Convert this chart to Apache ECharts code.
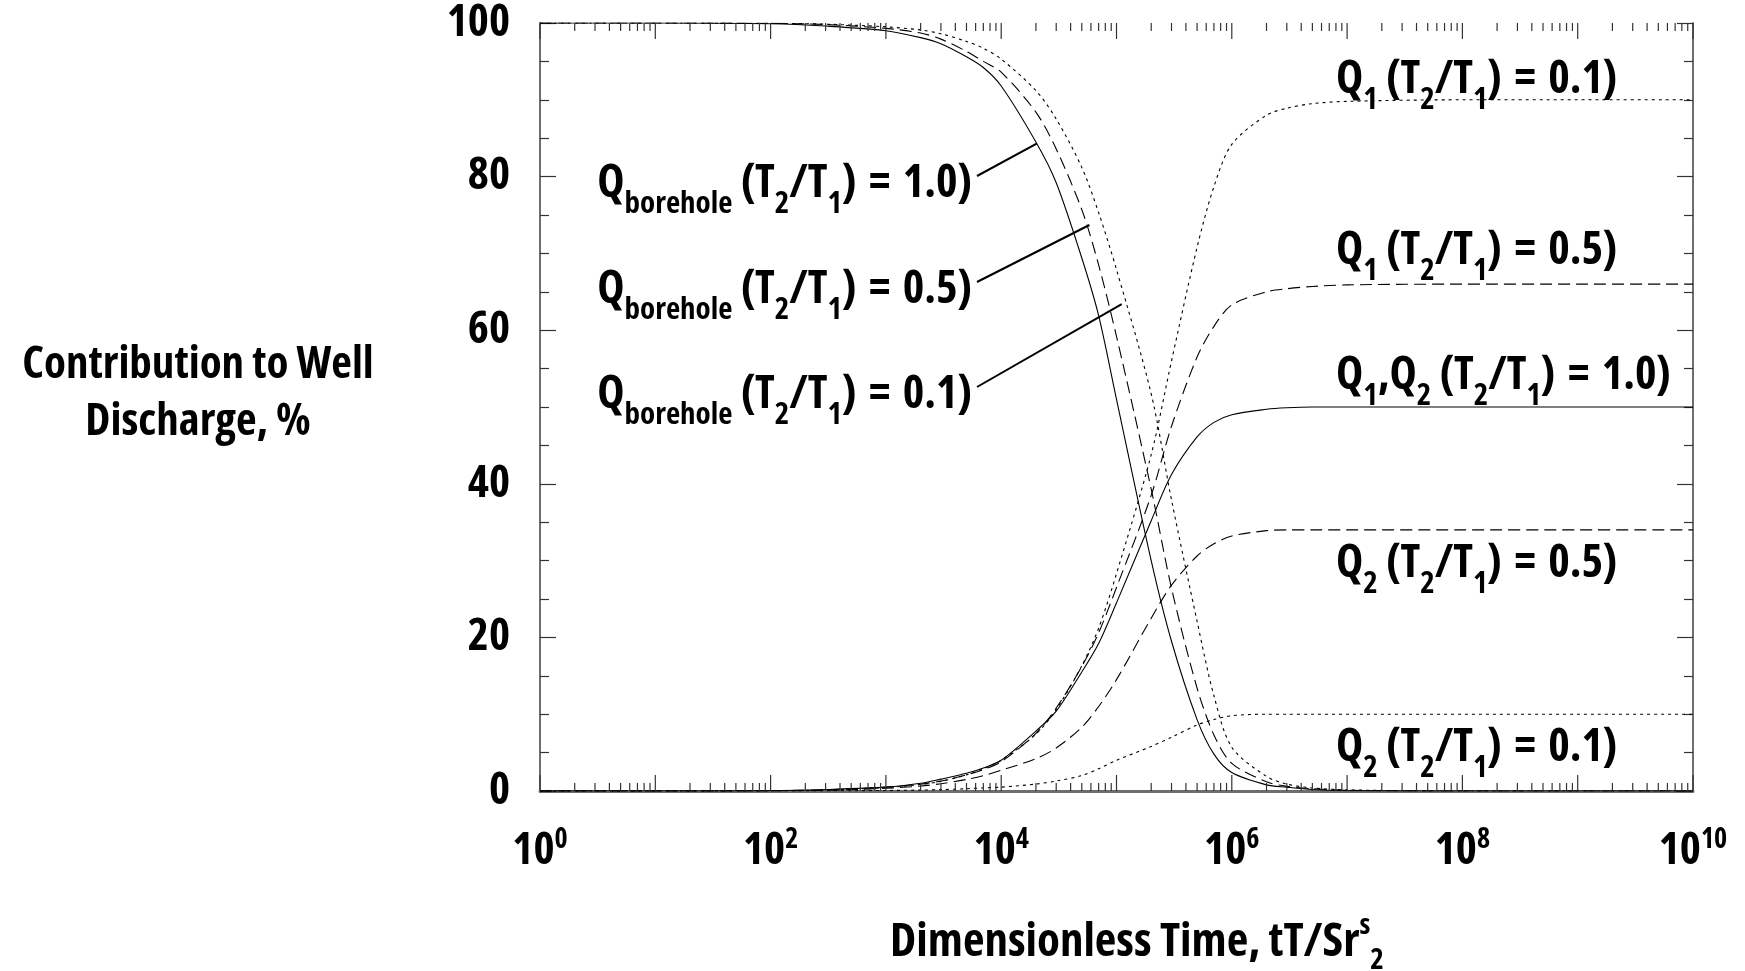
<!DOCTYPE html>
<html><head><meta charset="utf-8">
<script src="https://cdn.jsdelivr.net/npm/echarts@6/dist/echarts.min.js"></script>
<style>html,body{margin:0;padding:0;background:#fff}#c{width:1745px;height:971px}</style>
</head><body><div id="c"></div><script>
const timeValues = [1, 10, 100, 300, 1e3, 2e3, 3e3, 5e3, 7e3, 1e4, 2e4, 3e4, 5e4, 7e4, 1e5, 2e5, 3e5, 5e5, 7e5, 1e6, 2e6, 3e6, 5e6, 1e7, 1e8, 1e9, 1e10];
const boreholeT10 = [100, 100, 99.9, 99.6, 99.0, 98.1, 97.3, 95.6, 94.2, 91.8, 84.5, 79.2, 69.4, 61.9, 51.0, 30.0, 19.5, 9.3, 4.8, 2.4, 0.8, 0.5, 0.2, 0.05, 0, 0, 0];
const boreholeT05 = [100, 100, 99.95, 99.8, 99.3, 98.7, 97.9, 96.3, 95.0, 93.6, 88.4, 83.6, 75.7, 68.5, 59.2, 39.3, 26.4, 13.4, 7.3, 3.6, 1.2, 0.6, 0.3, 0.1, 0, 0, 0];
const boreholeT01 = [100, 100, 99.95, 99.85, 99.5, 99.1, 98.6, 97.6, 96.7, 95.3, 91.2, 87.5, 81.2, 75.3, 67.9, 51.7, 37.9, 22.1, 12.4, 5.7, 1.9, 0.9, 0.4, 0.15, 0, 0, 0];
const q1q2T10 = [0, 0, 0.05, 0.2, 0.5, 1.0, 1.55, 2.3, 3.0, 4.0, 7.8, 10.4, 15.5, 19.2, 24.5, 35.2, 41.2, 46.1, 48.0, 49.0, 49.7, 49.9, 50, 50, 50, 50, 50];
const q1T05 = [0, 0, 0.05, 0.15, 0.5, 0.9, 1.3, 2.1, 2.8, 3.8, 7.5, 10.8, 16.2, 20.6, 26.5, 38.5, 47.5, 56.5, 60.5, 63.3, 65.0, 65.4, 65.7, 65.9, 66, 66, 66];
const q2T05 = [0, 0, 0.03, 0.1, 0.35, 0.65, 0.95, 1.5, 2.0, 2.7, 4.2, 5.6, 8.3, 11.0, 14.5, 22.5, 26.8, 30.6, 32.2, 33.2, 33.9, 34, 34, 34, 34, 34, 34];
const q1T01 = [0, 0, 0.05, 0.12, 0.45, 0.85, 1.25, 2.1, 2.9, 4.0, 7.4, 10.6, 16.3, 21.2, 28.3, 43.8, 56.0, 70.8, 78.7, 84.2, 88.0, 88.9, 89.5, 89.8, 90, 90, 90];
const q2T01 = [0, 0, 0, 0.02, 0.07, 0.12, 0.18, 0.3, 0.4, 0.5, 0.9, 1.3, 2.0, 2.9, 4.0, 5.8, 7.0, 8.6, 9.3, 9.8, 10, 10, 10, 10, 10, 10, 10];

const yTicks = [0, 20, 40, 60, 80, 100];
const xDecades = [0, 1, 2, 3, 4, 5, 6, 7, 8, 9, 10];
const xLabelExponents = [0, 2, 4, 6, 8, 10];

const leftLabels = [
  {sub: 'borehole', ratio: '1.0'},
  {sub: 'borehole', ratio: '0.5'},
  {sub: 'borehole', ratio: '0.1'}
];
const leaderTargets = [[2.03e4, 84.3], [5.82e4, 73.7], [1.11e5, 63.4]];
const rightLabels = ['Q1|0.1', 'Q1|0.5', 'Q1,Q2|1.0', 'Q2|0.5', 'Q2|0.1'];

const FONT = "'Open Sans','DejaVu Sans Condensed',sans-serif";
const W = 'bold condensed';
const INK = '#000';
const AXIS = '#6e6e6e';

function pairs(ys) { return timeValues.map((t, i) => [t, ys[i]]); }

const tickData = [];
xDecades.forEach(k => {
  if (k < 10) { for (let m = 1; m <= 9; m++) tickData.push([m * Math.pow(10, k), m === 1 ? 1 : 0]); }
  else tickData.push([Math.pow(10, k), 1]);
});

function renderTicks(params, api) {
  const t = api.value(0), major = api.value(1);
  const b = api.coord([t, 0]);
  const tp = api.coord([t, 100]);
  const len = major ? 16 : 8;
  const st = {stroke: '#333', lineWidth: 1.2};
  return {type: 'group', children: [
    {type: 'line', shape: {x1: b[0], y1: b[1], x2: b[0], y2: b[1] - len}, style: st},
    {type: 'line', shape: {x1: tp[0], y1: tp[1], x2: tp[0], y2: tp[1] + len}, style: st}
  ]};
}

const SOLID = 'solid', DASH = [12, 6], DOT = [3, 4];
function line(name, ys, type) {
  return {
    name, type: 'line', data: pairs(ys), showSymbol: false, symbol: 'none',
    smooth: 0.3, silent: true, z: 3,
    lineStyle: {color: INK, width: 1.1, type: type}
  };
}

const chart = echarts.init(document.getElementById('c'), null, {renderer: 'canvas'});

const axisCommon = {
  type: 'log', logBase: 10, min: 1, max: 1e10, interval: 1,
  splitLine: {show: false}, axisTick: {show: false}, minorTick: {show: false}
};

chart.setOption({
  animation: false,
  backgroundColor: '#fff',
  grid: {left: 540, right: 52, top: 23, bottom: 180, containLabel: false, outerBoundsMode: 'none'},
  xAxis: [
    Object.assign({}, axisCommon, {
      position: 'bottom',
      axisLine: {show: true, lineStyle: {color: AXIS, width: 3}},
      axisLabel: {
        show: true, margin: 35, showMinLabel: true, showMaxLabel: true,
        formatter: function (v) {
          const n = Math.round(Math.log10(v));
          if (xLabelExponents.indexOf(n) < 0) return '';
          return '{b|10}{p|' + n + '}';
        },
        rich: {
          b: {fontFamily: FONT, fontWeight: W, fontSize: 45, color: INK, lineHeight: 50},
          p: {fontFamily: FONT, fontWeight: W, fontSize: 28, color: INK, lineHeight: 24, verticalAlign: 'top'}
        }
      }
    }),
    Object.assign({}, axisCommon, {
      position: 'top',
      axisLine: {show: true, lineStyle: {color: AXIS, width: 2}},
      axisLabel: {show: false}
    })
  ],
  yAxis: [
    {
      type: 'value', min: 0, max: 100, interval: 20, position: 'left',
      splitLine: {show: false},
      axisLine: {show: true, lineStyle: {color: AXIS, width: 2}},
      axisTick: {show: true, inside: true, length: 16, lineStyle: {color: '#333', width: 1.2}},
      minorTick: {show: true, splitNumber: 4, length: 9, lineStyle: {color: '#333', width: 1.2}},
      axisLabel: {show: true, margin: 30, fontFamily: FONT, fontWeight: W, fontSize: 45, color: INK,
        formatter: v => (yTicks.indexOf(v) >= 0 ? String(v) : '')}
    },
    {
      type: 'value', min: 0, max: 100, interval: 20, position: 'right',
      splitLine: {show: false},
      axisLine: {show: true, lineStyle: {color: AXIS, width: 2}},
      axisTick: {show: true, inside: true, length: 16, lineStyle: {color: '#333', width: 1.2}},
      minorTick: {show: true, splitNumber: 4, length: 9, lineStyle: {color: '#333', width: 1.2}},
      axisLabel: {show: false}
    }
  ],
  series: [
    line('Qborehole T2/T1=1.0', boreholeT10, SOLID),
    line('Qborehole T2/T1=0.5', boreholeT05, DASH),
    line('Qborehole T2/T1=0.1', boreholeT01, DOT),
    line('Q1,Q2 T2/T1=1.0', q1q2T10, SOLID),
    line('Q1 T2/T1=0.5', q1T05, DASH),
    line('Q2 T2/T1=0.5', q2T05, DASH),
    line('Q1 T2/T1=0.1', q1T01, DOT),
    line('Q2 T2/T1=0.1', q2T01, DOT),
    {
      name: 'ticks', type: 'custom', data: tickData, renderItem: renderTicks,
      encode: {x: 0, y: 1}, silent: true, clip: false, z: 5, xAxisIndex: 0, yAxisIndex: 0
    }
  ]
});

// ---------- annotations ----------
const RICH = {
  m: {fontFamily: FONT, fontWeight: W, fontSize: 46, fill: INK, lineHeight: 72},
  e: {fontFamily: FONT, fontWeight: W, fontSize: 46, fill: INK, lineHeight: 72, padding: [0, 4]},
  s: {fontFamily: FONT, fontWeight: W, fontSize: 31, fill: INK, verticalAlign: 'bottom'}
};
function qText(q) {
  return q.split(',').map((part, i) => (i ? '{m|,Q}' : '{m|Q}') + '{s|' + part.slice(1) + '}').join('');
}
const ratioText = r => '{m| (T}{s|2}{m|/T}{s|1}{m|) }{e|=}{m| ' + r + ')}';

const leftY = [184, 290, 395];
const rightY = [80, 251, 376, 564, 748];
const graphics = [];
leftLabels.forEach((l, i) => {
  graphics.push({type: 'text', x: 972, y: leftY[i], z: 10, style: {
    text: '{m|Q}{s|' + l.sub + '}' + ratioText(l.ratio), rich: RICH,
    fontFamily: FONT, fontWeight: W, fontSize: 46, fill: INK, align: 'right', verticalAlign: 'middle'}});
  const end = chart.convertToPixel({xAxisIndex: 0, yAxisIndex: 0}, leaderTargets[i]);
  graphics.push({type: 'line', z: 10, shape: {x1: 977, y1: leftY[i] - 8, x2: end[0], y2: end[1]},
    style: {stroke: INK, lineWidth: 2}});
});
rightLabels.forEach((s, i) => {
  const [q, r] = s.split('|');
  graphics.push({type: 'text', x: 1336, y: rightY[i], z: 10, style: {
    text: qText(q) + ratioText(r), rich: RICH,
    fontFamily: FONT, fontWeight: W, fontSize: 46, fill: INK, align: 'left', verticalAlign: 'middle'}});
});
graphics.push({type: 'text', x: 198, y: 394, style: {
  text: 'Contribution to Well\nDischarge, %', fontFamily: FONT, fontWeight: W, fontSize: 45,
  lineHeight: 57, fill: INK, align: 'center', verticalAlign: 'middle'}});
graphics.push({type: 'text', x: 1137, y: 943, style: {
  text: '{m|Dimensionless Time, tT/Sr}{p|s}{s|2}',
  rich: {
    m: {fontFamily: FONT, fontWeight: W, fontSize: 47, fill: INK, lineHeight: 64},
    p: {fontFamily: FONT, fontWeight: W, fontSize: 29, fill: INK, verticalAlign: 'top'},
    s: {fontFamily: FONT, fontWeight: W, fontSize: 29, fill: INK, verticalAlign: 'bottom'}
  },
  fontFamily: FONT, fontWeight: W, fontSize: 47, fill: INK, align: 'center', verticalAlign: 'middle'}});
chart.setOption({graphic: graphics});
</script></body></html>
